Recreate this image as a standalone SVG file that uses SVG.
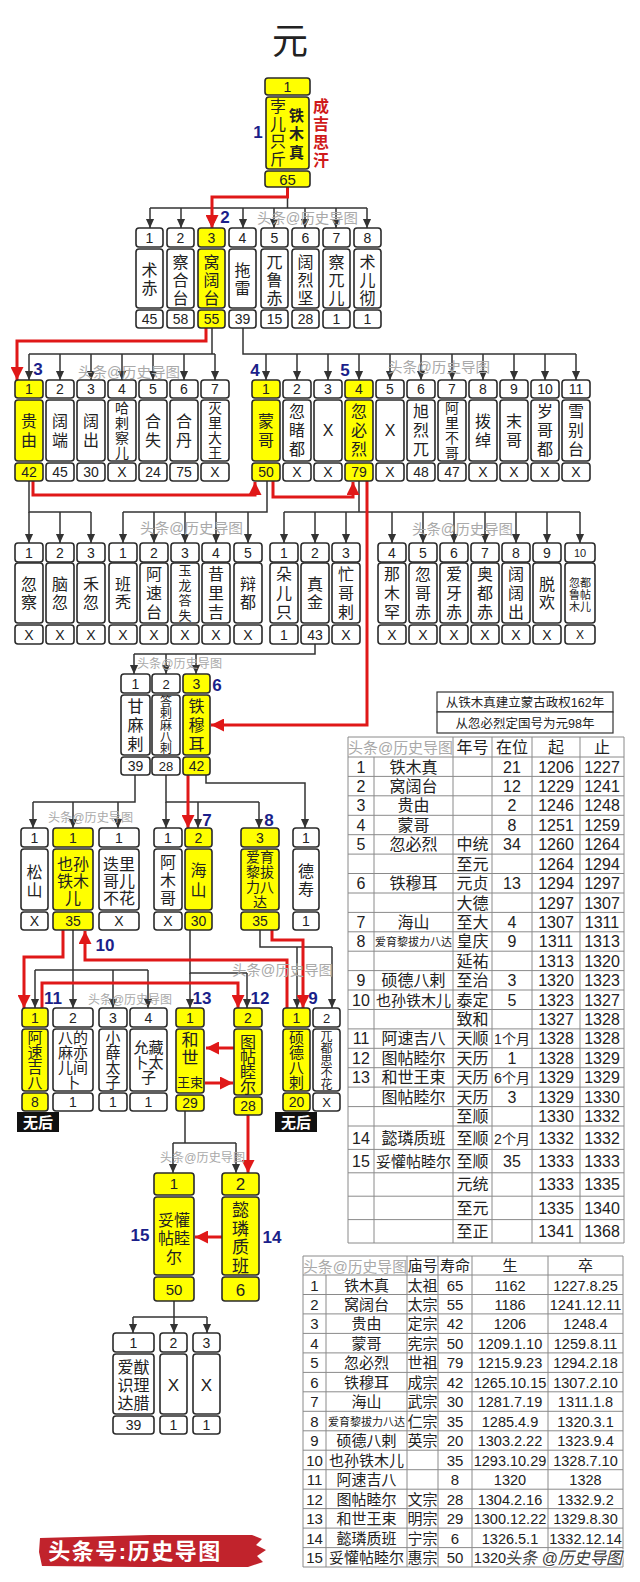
<svg xmlns="http://www.w3.org/2000/svg" width="640" height="1582" viewBox="0 0 640 1582">
<style>
.w{fill:#fff;stroke:#2b2b2b;stroke-width:1.6}
.y{fill:#ffff00;stroke:#2b2b2b;stroke-width:1.6}
.t{font-family:'Liberation Sans','Noto Sans CJK SC',sans-serif;fill:#222;text-anchor:middle}
.s11{font-size:11px}.s12{font-size:12px}.s13{font-size:13px}.s14{font-size:14px}.s15{font-size:15px}.s16{font-size:16px}.s17{font-size:17px}
.bd{font-weight:bold}
.wm{font-family:'Liberation Sans','Noto Sans CJK SC',sans-serif;fill:#a9a9a9;font-size:14px}
.bl{font-family:'Liberation Sans',Arial,sans-serif;font-weight:bold;font-size:17px;fill:#1b1f8a;text-anchor:middle}
.c{fill:none;stroke:#333;stroke-width:1.5}
.ca{fill:none;stroke:#333;stroke-width:1.5;marker-end:url(#ak)}
.r{fill:none;stroke:#e01818;stroke-width:3;marker-end:url(#ar)}
.g{fill:none;stroke:#8a8a8a;stroke-width:1}
</style>
<defs>
<marker id="ak" viewBox="0 0 10 10" refX="10" refY="5" markerWidth="9" markerHeight="10" markerUnits="userSpaceOnUse" orient="auto"><path d="M0,0.5 L10,5 L0,9.5 z" fill="#333"/></marker>
<marker id="ar" viewBox="0 0 12 12" refX="12" refY="6" markerWidth="13" markerHeight="13" markerUnits="userSpaceOnUse" orient="auto"><path d="M0,0 L12,6 L0,12 z" fill="#e01818"/></marker>
</defs>
<rect width="640" height="1582" fill="#fff"/>
<text class="t" x="290" y="54" style="font-size:36px">元</text>

<g id="connectors">
<g id="black">
<path class="c" d="M287.5,187V208M150,208H367"/>
<path class="ca" d="M150,208V228"/><path class="ca" d="M181,208V228"/><path class="ca" d="M212,208V228"/><path class="ca" d="M243,208V228"/><path class="ca" d="M274,208V228"/><path class="ca" d="M305,208V228"/><path class="ca" d="M336,208V228"/><path class="ca" d="M367,208V228"/>
<path class="c" d="M212,328V354M29,354H215"/>
<path class="ca" d="M29,354V380"/><path class="ca" d="M60,354V380"/><path class="ca" d="M91,354V380"/><path class="ca" d="M122,354V380"/><path class="ca" d="M153,354V380"/><path class="ca" d="M184,354V380"/><path class="ca" d="M215,354V380"/>
<path class="c" d="M243,328V354H576"/>
<path class="ca" d="M266,354V380"/><path class="ca" d="M297,354V380"/><path class="ca" d="M328,354V380"/><path class="ca" d="M359,354V380"/><path class="ca" d="M390,354V380"/><path class="ca" d="M421,354V380"/><path class="ca" d="M452,354V380"/><path class="ca" d="M483,354V380"/><path class="ca" d="M514,354V380"/><path class="ca" d="M545,354V380"/><path class="ca" d="M576,354V380"/>
<path class="c" d="M29,481V512H91"/>
<path class="ca" d="M29,512V543"/><path class="ca" d="M60,512V543"/><path class="ca" d="M91,512V543"/>
<path class="c" d="M267,481V512H123"/>
<path class="ca" d="M123,512V543"/><path class="ca" d="M154,512V543"/><path class="ca" d="M185,512V543"/><path class="ca" d="M216,512V543"/><path class="ca" d="M248,512V543"/>
<path class="c" d="M359,481V512M284,512H580"/>
<path class="ca" d="M284,512V543"/><path class="ca" d="M315,512V543"/><path class="ca" d="M346,512V543"/><path class="ca" d="M392,512V543"/><path class="ca" d="M423,512V543"/><path class="ca" d="M454,512V543"/><path class="ca" d="M485,512V543"/><path class="ca" d="M516,512V543"/><path class="ca" d="M547,512V543"/><path class="ca" d="M580,512V543"/>
<path class="c" d="M315,644V654H134"/>
<path class="ca" d="M134,654V674"/><path class="ca" d="M166,654V674"/><path class="ca" d="M196,654V674"/>
<path class="c" d="M135,775V802H33"/>
<path class="ca" d="M33,802V828"/><path class="ca" d="M73,802V828"/><path class="ca" d="M118,802V828"/>
<path class="c" d="M166,775V802H259"/>
<path class="ca" d="M166,802V828"/><path class="ca" d="M198,802V828"/><path class="ca" d="M259,802V828"/>
<path class="ca" d="M206,775V783H305V828"/>
<path class="c" d="M73,930V970M35,970H148"/>
<path class="ca" d="M35,970V1008"/><path class="ca" d="M73,970V1008"/><path class="ca" d="M113,970V1008"/><path class="ca" d="M148,970V1008"/>
<path class="c" d="M190,930V973H247"/>
<path class="ca" d="M190,973V1008"/><path class="ca" d="M247,973V1008"/>
<path class="c" d="M260,930V947H332"/>
<path class="ca" d="M332,947V1008"/><path class="ca" d="M297,947V1008"/>
<path class="c" d="M185,1111V1143M173,1143H236"/>
<path class="ca" d="M173,1143V1173"/><path class="ca" d="M236,1143V1173"/>
<path class="c" d="M174,1301V1317M133,1317H207"/>
<path class="ca" d="M133,1317V1333"/><path class="ca" d="M174,1317V1333"/><path class="ca" d="M207,1317V1333"/>
</g>
<g id="red">
<path class="r" d="M287.5,187V197H212V228"/>
<path class="r" d="M206,328V341H17V380"/>
<path class="r" d="M33,481V495H255V482"/>
<path class="r" d="M273,481V497H353V482"/>
<path class="r" d="M367,481V725H211"/>
<path class="r" d="M188,775V828"/>
<path class="r" d="M63,930V957H24V1008"/>
<path class="r" d="M287,1008V960H85V931"/>
<path class="r" d="M42,1008V983H238V1008"/>
<path class="r" d="M272,930V940H303V1008"/>
<path class="r" d="M234,1048H206"/>
<path class="r" d="M205,1083H233"/>
<path class="r" d="M248,1115V1173"/>
<path class="r" d="M222,1237H195"/>
</g>
</g>

<g id="n-root">
<rect class="y" x="265" y="78" width="45" height="17" rx="3"/><rect class="y" x="266" y="97" width="43" height="72" rx="3"/><rect class="y" x="265" y="171" width="45" height="16" rx="3"/>
<text class="t s14" x="287.5" y="92">1</text>
<text class="t s16" x="278 278 278 278" y="112 129.5 147 164.5">孛儿只斤</text>
<text class="t s15 bd" x="296.5 296.5 296.5" y="120.5 138.5 157.5">铁木真</text>
<text class="t s15" x="287.5" y="184.5">65</text>
</g>
<text class="t s16 bd" style="fill:#d01a1a" x="321 321 321 321" y="112 130 148 166">成吉思汗</text>

<!-- row 2 -->
<g id="r2-1"><rect class="w" x="136" y="228" width="27" height="19" rx="3"/><rect class="w" x="136" y="249" width="27" height="59" rx="3"/><rect class="w" x="136" y="310" width="27" height="18" rx="3"/><text class="t s14" x="149.5" y="242.5">1</text><text class="t s16" x="149.5 149.5" y="276 294">术赤</text><text class="t s14" x="149.5" y="324">45</text></g>
<g id="r2-2"><rect class="w" x="167" y="228" width="27" height="19" rx="3"/><rect class="w" x="167" y="249" width="27" height="59" rx="3"/><rect class="w" x="167" y="310" width="27" height="18" rx="3"/><text class="t s14" x="180.5" y="242.5">2</text><text class="t s16" x="180.5 180.5 180.5" y="268 286 304">察合台</text><text class="t s14" x="180.5" y="324">58</text></g>
<g id="r2-3"><rect class="y" x="198" y="228" width="27" height="19" rx="3"/><rect class="y" x="198" y="249" width="27" height="59" rx="3"/><rect class="y" x="198" y="310" width="27" height="18" rx="3"/><text class="t s14" x="211.5" y="242.5">3</text><text class="t s16" x="211.5 211.5 211.5" y="268 286 304">窝阔台</text><text class="t s14" x="211.5" y="324">55</text></g>
<g id="r2-4"><rect class="w" x="229" y="228" width="27" height="19" rx="3"/><rect class="w" x="229" y="249" width="27" height="59" rx="3"/><rect class="w" x="229" y="310" width="27" height="18" rx="3"/><text class="t s14" x="242.5" y="242.5">4</text><text class="t s16" x="242.5 242.5" y="276 294">拖雷</text><text class="t s14" x="242.5" y="324">39</text></g>
<g id="r2-5"><rect class="w" x="261" y="228" width="27" height="19" rx="3"/><rect class="w" x="261" y="249" width="27" height="59" rx="3"/><rect class="w" x="261" y="310" width="27" height="18" rx="3"/><text class="t s14" x="274.5" y="242.5">5</text><text class="t s16" x="274.5 274.5 274.5" y="268 286 304">兀鲁赤</text><text class="t s14" x="274.5" y="324">15</text></g>
<g id="r2-6"><rect class="w" x="292" y="228" width="27" height="19" rx="3"/><rect class="w" x="292" y="249" width="27" height="59" rx="3"/><rect class="w" x="292" y="310" width="27" height="18" rx="3"/><text class="t s14" x="305.5" y="242.5">6</text><text class="t s16" x="305.5 305.5 305.5" y="268 286 304">阔烈坚</text><text class="t s14" x="305.5" y="324">28</text></g>
<g id="r2-7"><rect class="w" x="323" y="228" width="27" height="19" rx="3"/><rect class="w" x="323" y="249" width="27" height="59" rx="3"/><rect class="w" x="323" y="310" width="27" height="18" rx="3"/><text class="t s14" x="336.5" y="242.5">7</text><text class="t s16" x="336.5 336.5 336.5" y="268 286 304">察兀儿</text><text class="t s14" x="336.5" y="324">1</text></g>
<g id="r2-8"><rect class="w" x="354" y="228" width="27" height="19" rx="3"/><rect class="w" x="354" y="249" width="27" height="59" rx="3"/><rect class="w" x="354" y="310" width="27" height="18" rx="3"/><text class="t s14" x="367.5" y="242.5">8</text><text class="t s16" x="367.5 367.5 367.5" y="268 286 304">术儿彻</text><text class="t s14" x="367.5" y="324">1</text></g>

<!-- row 3 -->
<g id="r3-a1"><rect class="y" x="15" y="380" width="28" height="18" rx="3"/><rect class="y" x="15" y="400" width="28" height="61" rx="3"/><rect class="y" x="15" y="463" width="28" height="18" rx="3"/><text class="t s14" x="29" y="394">1</text><text class="t s16" x="29 29" y="427 446">贵由</text><text class="t s14" x="29" y="477">42</text></g>
<g id="r3-a2"><rect class="w" x="46" y="380" width="28" height="18" rx="3"/><rect class="w" x="46" y="400" width="28" height="61" rx="3"/><rect class="w" x="46" y="463" width="28" height="18" rx="3"/><text class="t s14" x="60" y="394">2</text><text class="t s16" x="60 60" y="427 446">阔端</text><text class="t s14" x="60" y="477">45</text></g>
<g id="r3-a3"><rect class="w" x="77" y="380" width="28" height="18" rx="3"/><rect class="w" x="77" y="400" width="28" height="61" rx="3"/><rect class="w" x="77" y="463" width="28" height="18" rx="3"/><text class="t s14" x="91" y="394">3</text><text class="t s16" x="91 91" y="427 446">阔出</text><text class="t s14" x="91" y="477">30</text></g>
<g id="r3-a4"><rect class="w" x="108" y="380" width="28" height="18" rx="3"/><rect class="w" x="108" y="400" width="28" height="61" rx="3"/><rect class="w" x="108" y="463" width="28" height="18" rx="3"/><text class="t s14" x="122" y="394">4</text><text class="t s14" x="122 122 122 122" y="413 428 443 458">哈剌察儿</text><text class="t s14" x="122" y="477">X</text></g>
<g id="r3-a5"><rect class="w" x="139" y="380" width="28" height="18" rx="3"/><rect class="w" x="139" y="400" width="28" height="61" rx="3"/><rect class="w" x="139" y="463" width="28" height="18" rx="3"/><text class="t s14" x="153" y="394">5</text><text class="t s16" x="153 153" y="427 446">合失</text><text class="t s14" x="153" y="477">24</text></g>
<g id="r3-a6"><rect class="w" x="170" y="380" width="28" height="18" rx="3"/><rect class="w" x="170" y="400" width="28" height="61" rx="3"/><rect class="w" x="170" y="463" width="28" height="18" rx="3"/><text class="t s14" x="184" y="394">6</text><text class="t s16" x="184 184" y="427 446">合丹</text><text class="t s14" x="184" y="477">75</text></g>
<g id="r3-a7"><rect class="w" x="201" y="380" width="28" height="18" rx="3"/><rect class="w" x="201" y="400" width="28" height="61" rx="3"/><rect class="w" x="201" y="463" width="28" height="18" rx="3"/><text class="t s14" x="215" y="394">7</text><text class="t s14" x="215 215 215 215" y="413 428 443 458">灭里大王</text><text class="t s14" x="215" y="477">X</text></g>
<g id="r3-b1"><rect class="y" x="252" y="380" width="28" height="18" rx="3"/><rect class="y" x="252" y="400" width="28" height="61" rx="3"/><rect class="y" x="252" y="463" width="28" height="18" rx="3"/><text class="t s14" x="266" y="394">1</text><text class="t s16" x="266 266" y="427 446">蒙哥</text><text class="t s14" x="266" y="477">50</text></g>
<g id="r3-b2"><rect class="w" x="283" y="380" width="28" height="18" rx="3"/><rect class="w" x="283" y="400" width="28" height="61" rx="3"/><rect class="w" x="283" y="463" width="28" height="18" rx="3"/><text class="t s14" x="297" y="394">2</text><text class="t s16" x="297 297 297" y="417 436 455">忽睹都</text><text class="t s14" x="297" y="477">X</text></g>
<g id="r3-b3"><rect class="w" x="314" y="380" width="28" height="18" rx="3"/><rect class="w" x="314" y="400" width="28" height="61" rx="3"/><rect class="w" x="314" y="463" width="28" height="18" rx="3"/><text class="t s14" x="328" y="394">3</text><text class="t s16" x="328" y="436">X</text><text class="t s14" x="328" y="477">X</text></g>
<g id="r3-b4"><rect class="y" x="345" y="380" width="28" height="18" rx="3"/><rect class="y" x="345" y="400" width="28" height="61" rx="3"/><rect class="y" x="345" y="463" width="28" height="18" rx="3"/><text class="t s14" x="359" y="394">4</text><text class="t s16" x="359 359 359" y="417 436 455">忽必烈</text><text class="t s14" x="359" y="477">79</text></g>
<g id="r3-b5"><rect class="w" x="376" y="380" width="28" height="18" rx="3"/><rect class="w" x="376" y="400" width="28" height="61" rx="3"/><rect class="w" x="376" y="463" width="28" height="18" rx="3"/><text class="t s14" x="390" y="394">5</text><text class="t s16" x="390" y="436">X</text><text class="t s14" x="390" y="477">X</text></g>
<g id="r3-b6"><rect class="w" x="407" y="380" width="28" height="18" rx="3"/><rect class="w" x="407" y="400" width="28" height="61" rx="3"/><rect class="w" x="407" y="463" width="28" height="18" rx="3"/><text class="t s14" x="421" y="394">6</text><text class="t s16" x="421 421 421" y="417 436 455">旭烈兀</text><text class="t s14" x="421" y="477">48</text></g>
<g id="r3-b7"><rect class="w" x="438" y="380" width="28" height="18" rx="3"/><rect class="w" x="438" y="400" width="28" height="61" rx="3"/><rect class="w" x="438" y="463" width="28" height="18" rx="3"/><text class="t s14" x="452" y="394">7</text><text class="t s14" x="452 452 452 452" y="413 428 443 458">阿里不哥</text><text class="t s14" x="452" y="477">47</text></g>
<g id="r3-b8"><rect class="w" x="469" y="380" width="28" height="18" rx="3"/><rect class="w" x="469" y="400" width="28" height="61" rx="3"/><rect class="w" x="469" y="463" width="28" height="18" rx="3"/><text class="t s14" x="483" y="394">8</text><text class="t s16" x="483 483" y="427 446">拨绰</text><text class="t s14" x="483" y="477">X</text></g>
<g id="r3-b9"><rect class="w" x="500" y="380" width="28" height="18" rx="3"/><rect class="w" x="500" y="400" width="28" height="61" rx="3"/><rect class="w" x="500" y="463" width="28" height="18" rx="3"/><text class="t s14" x="514" y="394">9</text><text class="t s16" x="514 514" y="427 446">末哥</text><text class="t s14" x="514" y="477">X</text></g>
<g id="r3-b10"><rect class="w" x="531" y="380" width="28" height="18" rx="3"/><rect class="w" x="531" y="400" width="28" height="61" rx="3"/><rect class="w" x="531" y="463" width="28" height="18" rx="3"/><text class="t s14" x="545" y="394">10</text><text class="t s16" x="545 545 545" y="417 436 455">岁哥都</text><text class="t s14" x="545" y="477">X</text></g>
<g id="r3-b11"><rect class="w" x="562" y="380" width="28" height="18" rx="3"/><rect class="w" x="562" y="400" width="28" height="61" rx="3"/><rect class="w" x="562" y="463" width="28" height="18" rx="3"/><text class="t s14" x="576" y="394">11</text><text class="t s16" x="576 576 576" y="417 436 455">雪别台</text><text class="t s14" x="576" y="477">X</text></g>

<!-- row 4 -->
<g id="r4-1"><rect class="w" x="15" y="543" width="28" height="19" rx="3"/><rect class="w" x="15" y="563" width="28" height="60" rx="3"/><rect class="w" x="15" y="625" width="28" height="19" rx="3"/><text class="t s14" x="29" y="557.5">1</text><text class="t s16" x="29 29" y="590 608">忽察</text><text class="t s14" x="29" y="639.5">X</text></g>
<g id="r4-2"><rect class="w" x="46" y="543" width="28" height="19" rx="3"/><rect class="w" x="46" y="563" width="28" height="60" rx="3"/><rect class="w" x="46" y="625" width="28" height="19" rx="3"/><text class="t s14" x="60" y="557.5">2</text><text class="t s16" x="60 60" y="590 608">脑忽</text><text class="t s14" x="60" y="639.5">X</text></g>
<g id="r4-3"><rect class="w" x="77" y="543" width="28" height="19" rx="3"/><rect class="w" x="77" y="563" width="28" height="60" rx="3"/><rect class="w" x="77" y="625" width="28" height="19" rx="3"/><text class="t s14" x="91" y="557.5">3</text><text class="t s16" x="91 91" y="590 608">禾忽</text><text class="t s14" x="91" y="639.5">X</text></g>
<g id="r4-4"><rect class="w" x="109" y="543" width="28" height="19" rx="3"/><rect class="w" x="109" y="563" width="28" height="60" rx="3"/><rect class="w" x="109" y="625" width="28" height="19" rx="3"/><text class="t s14" x="123" y="557.5">1</text><text class="t s16" x="123 123" y="590 608">班秃</text><text class="t s14" x="123" y="639.5">X</text></g>
<g id="r4-5"><rect class="w" x="140" y="543" width="28" height="19" rx="3"/><rect class="w" x="140" y="563" width="28" height="60" rx="3"/><rect class="w" x="140" y="625" width="28" height="19" rx="3"/><text class="t s14" x="154" y="557.5">2</text><text class="t s16" x="154 154 154" y="580 599 618">阿速台</text><text class="t s14" x="154" y="639.5">X</text></g>
<g id="r4-6"><rect class="w" x="171" y="543" width="28" height="19" rx="3"/><rect class="w" x="171" y="563" width="28" height="60" rx="3"/><rect class="w" x="171" y="625" width="28" height="19" rx="3"/><text class="t s14" x="185" y="557.5">3</text><text class="t s13" x="185 185 185 185" y="575 590 605 620">玉龙答失</text><text class="t s14" x="185" y="639.5">X</text></g>
<g id="r4-7"><rect class="w" x="202" y="543" width="28" height="19" rx="3"/><rect class="w" x="202" y="563" width="28" height="60" rx="3"/><rect class="w" x="202" y="625" width="28" height="19" rx="3"/><text class="t s14" x="216" y="557.5">4</text><text class="t s16" x="216 216 216" y="580 599 618">昔里吉</text><text class="t s14" x="216" y="639.5">X</text></g>
<g id="r4-8"><rect class="w" x="234" y="543" width="28" height="19" rx="3"/><rect class="w" x="234" y="563" width="28" height="60" rx="3"/><rect class="w" x="234" y="625" width="28" height="19" rx="3"/><text class="t s14" x="248" y="557.5">5</text><text class="t s16" x="248 248" y="590 608">辩都</text><text class="t s14" x="248" y="639.5">X</text></g>
<g id="r4-9"><rect class="w" x="270" y="543" width="28" height="19" rx="3"/><rect class="w" x="270" y="563" width="28" height="60" rx="3"/><rect class="w" x="270" y="625" width="28" height="19" rx="3"/><text class="t s14" x="284" y="557.5">1</text><text class="t s16" x="284 284 284" y="580 599 618">朵儿只</text><text class="t s14" x="284" y="639.5">1</text></g>
<g id="r4-10"><rect class="w" x="301" y="543" width="28" height="19" rx="3"/><rect class="w" x="301" y="563" width="28" height="60" rx="3"/><rect class="w" x="301" y="625" width="28" height="19" rx="3"/><text class="t s14" x="315" y="557.5">2</text><text class="t s16" x="315 315" y="590 608">真金</text><text class="t s14" x="315" y="639.5">43</text></g>
<g id="r4-11"><rect class="w" x="332" y="543" width="28" height="19" rx="3"/><rect class="w" x="332" y="563" width="28" height="60" rx="3"/><rect class="w" x="332" y="625" width="28" height="19" rx="3"/><text class="t s14" x="346" y="557.5">3</text><text class="t s16" x="346 346 346" y="580 599 618">忙哥剌</text><text class="t s14" x="346" y="639.5">X</text></g>
<g id="r4-12"><rect class="w" x="378" y="543" width="28" height="19" rx="3"/><rect class="w" x="378" y="563" width="28" height="60" rx="3"/><rect class="w" x="378" y="625" width="28" height="19" rx="3"/><text class="t s14" x="392" y="557.5">4</text><text class="t s16" x="392 392 392" y="580 599 618">那木罕</text><text class="t s14" x="392" y="639.5">X</text></g>
<g id="r4-13"><rect class="w" x="409" y="543" width="28" height="19" rx="3"/><rect class="w" x="409" y="563" width="28" height="60" rx="3"/><rect class="w" x="409" y="625" width="28" height="19" rx="3"/><text class="t s14" x="423" y="557.5">5</text><text class="t s16" x="423 423 423" y="580 599 618">忽哥赤</text><text class="t s14" x="423" y="639.5">X</text></g>
<g id="r4-14"><rect class="w" x="440" y="543" width="28" height="19" rx="3"/><rect class="w" x="440" y="563" width="28" height="60" rx="3"/><rect class="w" x="440" y="625" width="28" height="19" rx="3"/><text class="t s14" x="454" y="557.5">6</text><text class="t s16" x="454 454 454" y="580 599 618">爱牙赤</text><text class="t s14" x="454" y="639.5">X</text></g>
<g id="r4-15"><rect class="w" x="471" y="543" width="28" height="19" rx="3"/><rect class="w" x="471" y="563" width="28" height="60" rx="3"/><rect class="w" x="471" y="625" width="28" height="19" rx="3"/><text class="t s14" x="485" y="557.5">7</text><text class="t s16" x="485 485 485" y="580 599 618">奥都赤</text><text class="t s14" x="485" y="639.5">X</text></g>
<g id="r4-16"><rect class="w" x="502" y="543" width="28" height="19" rx="3"/><rect class="w" x="502" y="563" width="28" height="60" rx="3"/><rect class="w" x="502" y="625" width="28" height="19" rx="3"/><text class="t s14" x="516" y="557.5">8</text><text class="t s16" x="516 516 516" y="580 599 618">阔阔出</text><text class="t s14" x="516" y="639.5">X</text></g>
<g id="r4-17"><rect class="w" x="533" y="543" width="28" height="19" rx="3"/><rect class="w" x="533" y="563" width="28" height="60" rx="3"/><rect class="w" x="533" y="625" width="28" height="19" rx="3"/><text class="t s14" x="547" y="557.5">9</text><text class="t s16" x="547 547" y="590 608">脱欢</text><text class="t s14" x="547" y="639.5">X</text></g>
<g id="r4-18"><rect class="w" x="565" y="543" width="30" height="19" rx="3"/><rect class="w" x="565" y="563" width="30" height="60" rx="3"/><rect class="w" x="565" y="625" width="30" height="19" rx="3"/><text class="t s11" x="580" y="557">10</text><text class="t s11" x="574.5 585.5 574.5 585.5 574.5 585.5" y="587 587 599 599 611 611">忽都鲁帖木儿</text><text class="t s12" x="580" y="639">X</text></g>

<!-- row 5 -->
<g id="r5-1"><rect class="w" x="121" y="674" width="29" height="19" rx="3"/><rect class="w" x="121" y="695" width="29" height="60" rx="3"/><rect class="w" x="121" y="757" width="29" height="18" rx="3"/><text class="t s14" x="135.5" y="688.5">1</text><text class="t s16" x="135.5 135.5 135.5" y="712 731 750">甘麻剌</text><text class="t s14" x="135.5" y="771">39</text></g>
<g id="r5-2"><rect class="w" x="152" y="674" width="28" height="19" rx="3"/><rect class="w" x="152" y="695" width="28" height="60" rx="3"/><rect class="w" x="152" y="757" width="28" height="18" rx="3"/><text class="t s13" x="166" y="688.5">2</text><text class="t s12" x="166 166 166 166 166" y="705.5 717.5 729.5 741.5 753">答剌麻八剌</text><text class="t s13" x="166" y="771">28</text></g>
<g id="r5-3"><rect class="y" x="183" y="674" width="27" height="19" rx="3"/><rect class="y" x="183" y="695" width="27" height="60" rx="3"/><rect class="y" x="183" y="757" width="27" height="18" rx="3"/><text class="t s14" x="196.5" y="688.5">3</text><text class="t s16" x="196.5 196.5 196.5" y="712 731 750">铁穆耳</text><text class="t s14" x="196.5" y="771">42</text></g>

<!-- row 6 -->
<g id="r6-1"><rect class="w" x="21" y="828" width="27" height="19" rx="3"/><rect class="w" x="21" y="849" width="27" height="61" rx="3"/><rect class="w" x="21" y="912" width="27" height="18" rx="3"/><text class="t s14" x="34.5" y="842.5">1</text><text class="t s16" x="34.5 34.5" y="878 896">松山</text><text class="t s14" x="34.5" y="926">X</text></g>
<g id="r6-2"><rect class="y" x="53" y="828" width="40" height="19" rx="3"/><rect class="y" x="53" y="849" width="40" height="61" rx="3"/><rect class="y" x="53" y="912" width="40" height="18" rx="3"/><text class="t s14" x="73" y="842.5">1</text><text class="t s16" x="65 81 65 81 73" y="870 870 887 887 904">也孙铁木儿</text><text class="t s14" x="73" y="926">35</text></g>
<g id="r6-3"><rect class="w" x="99" y="828" width="40" height="19" rx="3"/><rect class="w" x="99" y="849" width="40" height="61" rx="3"/><rect class="w" x="99" y="912" width="40" height="18" rx="3"/><text class="t s14" x="119" y="842.5">1</text><text class="t s16" x="111 127 111 127 111 127" y="870 870 887 887 904 904">迭里哥儿不花</text><text class="t s14" x="119" y="926">X</text></g>
<g id="r6-4"><rect class="w" x="154" y="828" width="28" height="19" rx="3"/><rect class="w" x="154" y="849" width="28" height="61" rx="3"/><rect class="w" x="154" y="912" width="28" height="18" rx="3"/><text class="t s14" x="168" y="842.5">1</text><text class="t s16" x="168 168 168" y="868 886 904">阿木哥</text><text class="t s14" x="168" y="926">X</text></g>
<g id="r6-5"><rect class="y" x="185" y="828" width="27" height="19" rx="3"/><rect class="y" x="185" y="849" width="27" height="61" rx="3"/><rect class="y" x="185" y="912" width="27" height="18" rx="3"/><text class="t s14" x="198.5" y="842.5">2</text><text class="t s16" x="198.5 198.5" y="876 896">海山</text><text class="t s14" x="198.5" y="926">30</text></g>
<g id="r6-6"><rect class="y" x="241" y="828" width="38" height="19" rx="3"/><rect class="y" x="241" y="849" width="38" height="61" rx="3"/><rect class="y" x="241" y="912" width="38" height="18" rx="3"/><text class="t s14" x="260" y="842.5">3</text><text class="t s14" x="253 267 253 267 253 267 260" y="862 862 877 877 892 892 907">爱育黎拔力八达</text><text class="t s14" x="260" y="926">35</text></g>
<g id="r6-7"><rect class="w" x="293" y="828" width="26" height="19" rx="3"/><rect class="w" x="293" y="849" width="26" height="61" rx="3"/><rect class="w" x="293" y="912" width="26" height="18" rx="3"/><text class="t s14" x="306" y="842.5">1</text><text class="t s16" x="306 306" y="877 895">德寿</text><text class="t s14" x="306" y="926">1</text></g>

<!-- row 7 -->
<g id="r7-1"><rect class="y" x="22" y="1008" width="26" height="19" rx="3"/><rect class="y" x="22" y="1029" width="26" height="62" rx="3"/><rect class="y" x="22" y="1093" width="26" height="18" rx="3"/><text class="t s14" x="35" y="1022.5">1</text><text class="t s15" x="35 35 35 35" y="1042.5 1057.5 1072.5 1087.5">阿速吉八</text><text class="t s14" x="35" y="1107">8</text></g>
<g id="r7-2"><rect class="w" x="53" y="1008" width="40" height="19" rx="3"/><rect class="w" x="53" y="1029" width="40" height="62" rx="3"/><rect class="w" x="53" y="1093" width="40" height="18" rx="3"/><text class="t s14" x="73" y="1022.5">2</text><text class="t s15" x="65.5 80.5 65.5 80.5 65.5 80.5 73" y="1042.5 1042.5 1057.5 1057.5 1072.5 1072.5 1087.5">八的麻亦儿间卜</text><text class="t s14" x="73" y="1107">1</text></g>
<g id="r7-3"><rect class="w" x="99" y="1008" width="28" height="19" rx="3"/><rect class="w" x="99" y="1029" width="28" height="62" rx="3"/><rect class="w" x="99" y="1093" width="28" height="18" rx="3"/><text class="t s14" x="113" y="1022.5">3</text><text class="t s15" x="113 113 113 113" y="1042.5 1057.5 1072.5 1087.5">小薛太子</text><text class="t s14" x="113" y="1107">1</text></g>
<g id="r7-4"><rect class="w" x="130" y="1008" width="37" height="19" rx="3"/><rect class="w" x="130" y="1029" width="37" height="62" rx="3"/><rect class="w" x="130" y="1093" width="37" height="18" rx="3"/><text class="t s14" x="148.5" y="1022.5">4</text><text class="t s15" x="141 156 141 156 148.5" y="1052.5 1052.5 1067.5 1067.5 1082.5">允藏卜太子</text><text class="t s14" x="148.5" y="1107">1</text></g>
<g id="r7-5"><rect class="y" x="176" y="1008" width="28" height="19" rx="3"/><rect class="y" x="176" y="1029" width="28" height="64" rx="3"/><rect class="y" x="176" y="1095" width="28" height="16" rx="3"/><text class="t s14" x="190" y="1022.5">1</text><text class="t s17" x="190 190" y="1046 1064">和世</text><text class="t s13" x="190" y="1087">王束</text><text class="t s14" x="190" y="1108">29</text></g>
<g id="r7-6"><rect class="y" x="234" y="1008" width="28" height="19" rx="3"/><rect class="y" x="234" y="1029" width="28" height="66" rx="3"/><rect class="y" x="234" y="1097" width="28" height="18" rx="3"/><text class="t s14" x="248" y="1022.5">2</text><text class="t s16" x="248 248 248 248" y="1048 1063 1078 1093">图帖睦尔</text><text class="t s14" x="248" y="1111">28</text></g>
<g id="r7-7"><rect class="y" x="283" y="1008" width="27" height="19" rx="3"/><rect class="y" x="283" y="1029" width="27" height="62" rx="3"/><rect class="y" x="283" y="1093" width="27" height="18" rx="3"/><text class="t s14" x="296.5" y="1022.5">1</text><text class="t s15" x="296.5 296.5 296.5 296.5" y="1042.5 1057.5 1072.5 1087.5">硕德八剌</text><text class="t s14" x="296.5" y="1107">20</text></g>
<g id="r7-8"><rect class="w" x="313" y="1008" width="27" height="19" rx="3"/><rect class="w" x="313" y="1029" width="27" height="62" rx="3"/><rect class="w" x="313" y="1093" width="27" height="18" rx="3"/><text class="t s13" x="326.5" y="1022.5">2</text><text class="t s12" x="326.5 326.5 326.5 326.5 326.5" y="1040.5 1052.5 1064.5 1076.5 1088.5">兀都思不花</text><text class="t s13" x="326.5" y="1107">X</text></g>
<g id="nohe1"><rect x="17" y="1112" width="42" height="20" fill="#111"/><text class="t s15 bd" style="fill:#fff" x="38" y="1128">无后</text></g>
<g id="nohe2"><rect x="275" y="1112" width="42" height="20" fill="#111"/><text class="t s15 bd" style="fill:#fff" x="296" y="1128">无后</text></g>

<!-- row 8 -->
<g id="r8-1"><rect class="y" x="154" y="1173" width="40" height="22" rx="3"/><rect class="y" x="154" y="1197" width="40" height="78" rx="3"/><rect class="y" x="154" y="1277" width="40" height="24" rx="3"/><text class="t s15" x="174" y="1189">1</text><text class="t s16" x="166 182 166 182 174" y="1226 1226 1244 1244 1263">妥懽帖睦尔</text><text class="t s15" x="174" y="1294.5">50</text></g>
<g id="r8-2"><rect class="y" x="222" y="1173" width="37" height="22" rx="3"/><rect class="y" x="222" y="1197" width="37" height="78" rx="3"/><rect class="y" x="222" y="1277" width="37" height="24" rx="3"/><text class="t s17" x="240.5" y="1190">2</text><text class="t s17" x="240.5 240.5 240.5 240.5" y="1216 1235 1253 1272">懿璘质班</text><text class="t s17" x="240.5" y="1295.5">6</text></g>

<!-- row 9 -->
<g id="r9-1"><rect class="w" x="113" y="1333" width="41" height="19" rx="3"/><rect class="w" x="113" y="1354" width="41" height="60" rx="3"/><rect class="w" x="113" y="1416" width="41" height="18" rx="3"/><text class="t s14" x="133.5" y="1347.5">1</text><text class="t s16" x="125.5 141.5 125.5 141.5 125.5 141.5" y="1373 1373 1391 1391 1409 1409">爱猷识理达腊</text><text class="t s14" x="133.5" y="1430">39</text></g>
<g id="r9-2"><rect class="w" x="160" y="1333" width="27" height="19" rx="3"/><rect class="w" x="160" y="1354" width="27" height="60" rx="3"/><rect class="w" x="160" y="1416" width="27" height="18" rx="3"/><text class="t s14" x="173.5" y="1347.5">2</text><text class="t s17" x="173.5" y="1391">X</text><text class="t s14" x="173.5" y="1430">1</text></g>
<g id="r9-3"><rect class="w" x="193" y="1333" width="27" height="19" rx="3"/><rect class="w" x="193" y="1354" width="27" height="60" rx="3"/><rect class="w" x="193" y="1416" width="27" height="18" rx="3"/><text class="t s14" x="206.5" y="1347.5">3</text><text class="t s17" x="206.5" y="1391">X</text><text class="t s14" x="206.5" y="1430">1</text></g>

<!-- blue step labels -->
<g id="labels">
<text class="bl" x="258" y="138">1</text><text class="bl" x="225" y="223">2</text><text class="bl" x="38" y="375">3</text><text class="bl" x="255" y="376">4</text><text class="bl" x="345" y="376">5</text><text class="bl" x="217" y="691">6</text><text class="bl" x="207" y="826">7</text><text class="bl" x="269" y="826">8</text><text class="bl" x="105" y="951">10</text><text class="bl" x="53" y="1004">11</text><text class="bl" x="202" y="1004">13</text><text class="bl" x="260" y="1004">12</text><text class="bl" x="313" y="1004">9</text><text class="bl" x="140" y="1241">15</text><text class="bl" x="272" y="1243">14</text>
</g>

<!-- watermarks -->
<g id="watermarks">
<text class="wm" x="257" y="223" textLength="101" lengthAdjust="spacingAndGlyphs">头条@历史导图</text>
<text class="wm" x="78" y="377" textLength="102" lengthAdjust="spacingAndGlyphs">头条@历史导图</text>
<text class="wm" x="388" y="372" textLength="102" lengthAdjust="spacingAndGlyphs">头条@历史导图</text>
<text class="wm" x="140" y="533" textLength="103" lengthAdjust="spacingAndGlyphs">头条@历史导图</text>
<text class="wm" x="412" y="534" textLength="101" lengthAdjust="spacingAndGlyphs">头条@历史导图</text>
<text class="wm" x="137" y="668" textLength="85" lengthAdjust="spacingAndGlyphs" style="font-size:12px">头条@历史导图</text>
<text class="wm" x="48" y="822" textLength="85" lengthAdjust="spacingAndGlyphs" style="font-size:12px">头条@历史导图</text>
<text class="wm" x="232" y="975" textLength="101" lengthAdjust="spacingAndGlyphs">头条@历史导图</text>
<text class="wm" x="88" y="1004" textLength="84" lengthAdjust="spacingAndGlyphs" style="font-size:12px">头条@历史导图</text>
<text class="wm" x="160" y="1162" textLength="85" lengthAdjust="spacingAndGlyphs" style="font-size:12px">头条@历史导图</text>
</g>

<!-- caption boxes -->
<g id="caption">
<rect x="437" y="692" width="176" height="20" fill="#fff" stroke="#333" stroke-width="1.2"/>
<rect x="437" y="712" width="176" height="21" fill="#fff" stroke="#333" stroke-width="1.2"/>
<text class="t" style="font-size:12.5px" x="525" y="707">从铁木真建立蒙古政权162年</text>
<text class="t" style="font-size:12.5px" x="525" y="727.5">从忽必烈定国号为元98年</text>
</g>

<!-- table 1 -->
<g id="table1">
<path class="g" d="M348,737H624M348,757H624M348,776.4H624M348,795.8H624M348,815.3H624M348,834.7H624M348,854.1H624M348,873.5H624M348,893H624M348,912.4H624M348,931.8H624M348,951.2H624M348,970.6H624M348,990H624M348,1009.5H624M348,1028.9H624M348,1048.3H624M348,1067.7H624M348,1087.1H624M348,1106.6H624M348,1126H624M348,1149.4H624M348,1172.8H624M348,1196.2H624M348,1219.6H624M348,1243H624M348,737V1243M374,757V1243M453,737V1243M492,737V1243M532,737V1243M580,737V1243M624,737V1243"/>
<text class="wm" x="348" y="753" textLength="105" lengthAdjust="spacingAndGlyphs" style="font-size:15px">头条@历史导图</text>
<text class="t s16"><tspan x="472.5" y="752.5">年号</tspan><tspan x="512" y="752.5">在位</tspan><tspan x="556" y="752.5">起</tspan><tspan x="602" y="752.5">止</tspan></text>
<text class="t s16"><tspan x="361" y="772.5">1</tspan><tspan x="361" y="791.9">2</tspan><tspan x="361" y="811.3">3</tspan><tspan x="361" y="830.8">4</tspan><tspan x="361" y="850.2">5</tspan><tspan x="361" y="889">6</tspan><tspan x="361" y="927.9">7</tspan><tspan x="361" y="947.3">8</tspan><tspan x="361" y="986.1">9</tspan><tspan x="361" y="1005.6">10</tspan><tspan x="361" y="1044.4">11</tspan><tspan x="361" y="1063.8">12</tspan><tspan x="361" y="1083.2">13</tspan><tspan x="361" y="1143.5">14</tspan><tspan x="361" y="1166.9">15</tspan></text>
<text class="t s16"><tspan x="413.5" y="772.5">铁木真</tspan><tspan x="413.5" y="791.9">窝阔台</tspan><tspan x="413.5" y="811.3">贵由</tspan><tspan x="413.5" y="830.8">蒙哥</tspan><tspan x="413.5" y="850.2">忽必烈</tspan><tspan x="413.5" y="889">铁穆耳</tspan><tspan x="413.5" y="927.9">海山</tspan><tspan x="413.5" y="986.1">硕德八剌</tspan><tspan x="413.5" y="1044.4">阿速吉八</tspan><tspan x="413.5" y="1063.8">图帖睦尔</tspan><tspan x="413.5" y="1083.2">和世王束</tspan><tspan x="413.5" y="1102.7">图帖睦尔</tspan><tspan x="413.5" y="1143.5">懿璘质班</tspan></text>
<text class="t s15"><tspan x="413.5" y="1005.6">也孙铁木儿</tspan><tspan x="413.5" y="1166.9">妥懽帖睦尔</tspan></text>
<text class="t s11" x="413.5" y="946">爱育黎拔力八达</text>
<text class="t s16"><tspan x="472.5" y="850.2">中统</tspan><tspan x="472.5" y="869.6">至元</tspan><tspan x="472.5" y="889">元贞</tspan><tspan x="472.5" y="908.5">大德</tspan><tspan x="472.5" y="927.9">至大</tspan><tspan x="472.5" y="947.3">皇庆</tspan><tspan x="472.5" y="966.7">延祐</tspan><tspan x="472.5" y="986.1">至治</tspan><tspan x="472.5" y="1005.6">泰定</tspan><tspan x="472.5" y="1025">致和</tspan><tspan x="472.5" y="1044.4">天顺</tspan><tspan x="472.5" y="1063.8">天历</tspan><tspan x="472.5" y="1083.2">天历</tspan><tspan x="472.5" y="1102.7">天历</tspan><tspan x="472.5" y="1122.1">至顺</tspan><tspan x="472.5" y="1143.5">至顺</tspan><tspan x="472.5" y="1166.9">至顺</tspan><tspan x="472.5" y="1190.3">元统</tspan><tspan x="472.5" y="1213.7">至元</tspan><tspan x="472.5" y="1237.1">至正</tspan></text>
<text class="t s16"><tspan x="512" y="772.5">21</tspan><tspan x="512" y="791.9">12</tspan><tspan x="512" y="811.3">2</tspan><tspan x="512" y="830.8">8</tspan><tspan x="512" y="850.2">34</tspan><tspan x="512" y="889">13</tspan><tspan x="512" y="927.9">4</tspan><tspan x="512" y="947.3">9</tspan><tspan x="512" y="986.1">3</tspan><tspan x="512" y="1005.6">5</tspan><tspan x="512" y="1063.8">1</tspan><tspan x="512" y="1102.7">3</tspan><tspan x="512" y="1166.9">35</tspan></text>
<text class="t s14"><tspan x="512" y="1044.4">1个月</tspan><tspan x="512" y="1083.2">6个月</tspan><tspan x="512" y="1143.5">2个月</tspan></text>
<text class="t s16"><tspan x="556" y="772.5">1206</tspan><tspan x="556" y="791.9">1229</tspan><tspan x="556" y="811.3">1246</tspan><tspan x="556" y="830.8">1251</tspan><tspan x="556" y="850.2">1260</tspan><tspan x="556" y="869.6">1264</tspan><tspan x="556" y="889">1294</tspan><tspan x="556" y="908.5">1297</tspan><tspan x="556" y="927.9">1307</tspan><tspan x="556" y="947.3">1311</tspan><tspan x="556" y="966.7">1313</tspan><tspan x="556" y="986.1">1320</tspan><tspan x="556" y="1005.6">1323</tspan><tspan x="556" y="1025">1327</tspan><tspan x="556" y="1044.4">1328</tspan><tspan x="556" y="1063.8">1328</tspan><tspan x="556" y="1083.2">1329</tspan><tspan x="556" y="1102.7">1329</tspan><tspan x="556" y="1122.1">1330</tspan><tspan x="556" y="1143.5">1332</tspan><tspan x="556" y="1166.9">1333</tspan><tspan x="556" y="1190.3">1333</tspan><tspan x="556" y="1213.7">1335</tspan><tspan x="556" y="1237.1">1341</tspan></text>
<text class="t s16"><tspan x="602" y="772.5">1227</tspan><tspan x="602" y="791.9">1241</tspan><tspan x="602" y="811.3">1248</tspan><tspan x="602" y="830.8">1259</tspan><tspan x="602" y="850.2">1264</tspan><tspan x="602" y="869.6">1294</tspan><tspan x="602" y="889">1297</tspan><tspan x="602" y="908.5">1307</tspan><tspan x="602" y="927.9">1311</tspan><tspan x="602" y="947.3">1313</tspan><tspan x="602" y="966.7">1320</tspan><tspan x="602" y="986.1">1323</tspan><tspan x="602" y="1005.6">1327</tspan><tspan x="602" y="1025">1328</tspan><tspan x="602" y="1044.4">1328</tspan><tspan x="602" y="1063.8">1329</tspan><tspan x="602" y="1083.2">1329</tspan><tspan x="602" y="1102.7">1330</tspan><tspan x="602" y="1122.1">1332</tspan><tspan x="602" y="1143.5">1332</tspan><tspan x="602" y="1166.9">1333</tspan><tspan x="602" y="1190.3">1335</tspan><tspan x="602" y="1213.7">1340</tspan><tspan x="602" y="1237.1">1368</tspan></text>
</g>

<!-- table 2 -->
<g id="table2">
<path class="g" d="M303,1256H623M303,1275H623M303,1294.5H623M303,1313.9H623M303,1333.4H623M303,1352.9H623M303,1372.4H623M303,1391.8H623M303,1411.3H623M303,1430.8H623M303,1450.2H623M303,1469.7H623M303,1489.2H623M303,1508.6H623M303,1528.1H623M303,1547.6H623M303,1567H623M303,1256V1567M326,1275V1567M407,1256V1567M438,1256V1567M472,1256V1567M548,1256V1567M623,1256V1567"/>
<text class="wm" x="303" y="1271.5" textLength="104" lengthAdjust="spacingAndGlyphs" style="font-size:15px">头条@历史导图</text>
<text class="t s15"><tspan x="422.5" y="1271">庙号</tspan><tspan x="455" y="1271">寿命</tspan><tspan x="510" y="1271">生</tspan><tspan x="585.5" y="1271">卒</tspan></text>
<text class="t s15"><tspan x="314.5" y="1290.5">1</tspan><tspan x="314.5" y="1310">2</tspan><tspan x="314.5" y="1329.4">3</tspan><tspan x="314.5" y="1348.9">4</tspan><tspan x="314.5" y="1368.4">5</tspan><tspan x="314.5" y="1387.9">6</tspan><tspan x="314.5" y="1407.3">7</tspan><tspan x="314.5" y="1426.8">8</tspan><tspan x="314.5" y="1446.3">9</tspan><tspan x="314.5" y="1465.7">10</tspan><tspan x="314.5" y="1485.2">11</tspan><tspan x="314.5" y="1504.7">12</tspan><tspan x="314.5" y="1524.1">13</tspan><tspan x="314.5" y="1543.6">14</tspan><tspan x="314.5" y="1563.1">15</tspan></text>
<text class="t s15"><tspan x="366.5" y="1290.5">铁木真</tspan><tspan x="366.5" y="1310">窝阔台</tspan><tspan x="366.5" y="1329.4">贵由</tspan><tspan x="366.5" y="1348.9">蒙哥</tspan><tspan x="366.5" y="1368.4">忽必烈</tspan><tspan x="366.5" y="1387.9">铁穆耳</tspan><tspan x="366.5" y="1407.3">海山</tspan><tspan x="366.5" y="1446.3">硕德八剌</tspan><tspan x="366.5" y="1465.7">也孙铁木儿</tspan><tspan x="366.5" y="1485.2">阿速吉八</tspan><tspan x="366.5" y="1504.7">图帖睦尔</tspan><tspan x="366.5" y="1524.1">和世王束</tspan><tspan x="366.5" y="1543.6">懿璘质班</tspan><tspan x="366.5" y="1563.1">妥懽帖睦尔</tspan></text>
<text class="t s11" x="366.5" y="1425.5">爱育黎拔力八达</text>
<text class="t s15"><tspan x="422.5" y="1290.5">太祖</tspan><tspan x="422.5" y="1310">太宗</tspan><tspan x="422.5" y="1329.4">定宗</tspan><tspan x="422.5" y="1348.9">宪宗</tspan><tspan x="422.5" y="1368.4">世祖</tspan><tspan x="422.5" y="1387.9">成宗</tspan><tspan x="422.5" y="1407.3">武宗</tspan><tspan x="422.5" y="1426.8">仁宗</tspan><tspan x="422.5" y="1446.3">英宗</tspan><tspan x="422.5" y="1504.7">文宗</tspan><tspan x="422.5" y="1524.1">明宗</tspan><tspan x="422.5" y="1543.6">宁宗</tspan><tspan x="422.5" y="1563.1">惠宗</tspan></text>
<text class="t s15"><tspan x="455" y="1290.5">65</tspan><tspan x="455" y="1310">55</tspan><tspan x="455" y="1329.4">42</tspan><tspan x="455" y="1348.9">50</tspan><tspan x="455" y="1368.4">79</tspan><tspan x="455" y="1387.9">42</tspan><tspan x="455" y="1407.3">30</tspan><tspan x="455" y="1426.8">35</tspan><tspan x="455" y="1446.3">20</tspan><tspan x="455" y="1465.7">35</tspan><tspan x="455" y="1485.2">8</tspan><tspan x="455" y="1504.7">28</tspan><tspan x="455" y="1524.1">29</tspan><tspan x="455" y="1543.6">6</tspan><tspan x="455" y="1563.1">50</tspan></text>
<text class="t" style="font-size:14.5px"><tspan x="510" y="1290.5">1162</tspan><tspan x="510" y="1310">1186</tspan><tspan x="510" y="1329.4">1206</tspan><tspan x="510" y="1348.9">1209.1.10</tspan><tspan x="510" y="1368.4">1215.9.23</tspan><tspan x="510" y="1387.9">1265.10.15</tspan><tspan x="510" y="1407.3">1281.7.19</tspan><tspan x="510" y="1426.8">1285.4.9</tspan><tspan x="510" y="1446.3">1303.2.22</tspan><tspan x="510" y="1465.7">1293.10.29</tspan><tspan x="510" y="1485.2">1320</tspan><tspan x="510" y="1504.7">1304.2.16</tspan><tspan x="510" y="1524.1">1300.12.22</tspan><tspan x="510" y="1543.6">1326.5.1</tspan><tspan x="490" y="1563.1">1320</tspan></text>
<text class="t" style="font-size:14.5px"><tspan x="585.5" y="1290.5">1227.8.25</tspan><tspan x="585.5" y="1310">1241.12.11</tspan><tspan x="585.5" y="1329.4">1248.4</tspan><tspan x="585.5" y="1348.9">1259.8.11</tspan><tspan x="585.5" y="1368.4">1294.2.18</tspan><tspan x="585.5" y="1387.9">1307.2.10</tspan><tspan x="585.5" y="1407.3">1311.1.8</tspan><tspan x="585.5" y="1426.8">1320.3.1</tspan><tspan x="585.5" y="1446.3">1323.9.4</tspan><tspan x="585.5" y="1465.7">1328.7.10</tspan><tspan x="585.5" y="1485.2">1328</tspan><tspan x="585.5" y="1504.7">1332.9.2</tspan><tspan x="585.5" y="1524.1">1329.8.30</tspan><tspan x="585.5" y="1543.6">1332.12.14</tspan></text>
<text x="505" y="1564" textLength="117" lengthAdjust="spacingAndGlyphs" style="font-family:'Liberation Sans','Noto Sans CJK SC',sans-serif;font-size:17px;font-style:italic;fill:#3a3a3a;stroke:#fff;stroke-width:2;paint-order:stroke">头条 @历史导图</text>
</g>

<!-- banner -->
<g id="banner">
<path d="M40,1538 L150,1535 L252,1535 L262,1539 L256,1545 L266,1550 L257,1556 L263,1562 L248,1567 L140,1567 L42,1566 L39,1552 Z" fill="#c1232c"/>
<text class="t bd" x="135" y="1559" style="font-size:22px;fill:#fff;letter-spacing:1.5px">头条号:历史导图</text>
</g>
</svg>
